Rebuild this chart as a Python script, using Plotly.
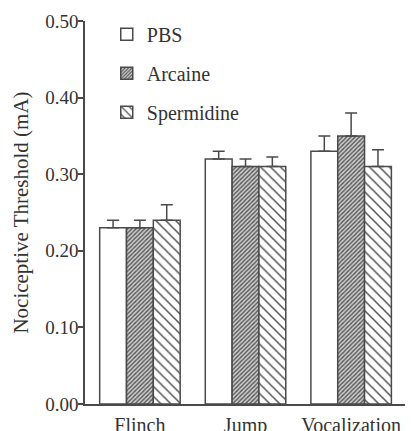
import plotly.graph_objects as go

categories = ["Flinch", "Jump", "Vocalization"]
series_names = ["PBS", "Arcaine", "Spermidine"]
pbs = [0.23, 0.32, 0.33]
pbs_err = [0.01, 0.01, 0.02]
arcaine = [0.23, 0.31, 0.35]
arcaine_err = [0.01, 0.01, 0.03]
spermidine = [0.24, 0.31, 0.31]
spermidine_err = [0.02, 0.0125, 0.022]
y_ticks = [0.0, 0.1, 0.2, 0.3, 0.4, 0.5]
y_ticklabels = ["0.00", "0.10", "0.20", "0.30", "0.40", "0.50"]

line_col = "#4a4a4a"
font_family = "'Liberation Serif', 'Times New Roman', Times, serif"

patterns = [
    dict(shape=""),
    dict(shape="/", size=3, solidity=0.45, fgcolor="#555555", bgcolor="#cfcfcf", fillmode="replace"),
    dict(shape="\\", size=7, solidity=0.22, fgcolor="#555555", bgcolor="white", fillmode="replace"),
]
values = [pbs, arcaine, spermidine]
errors = [pbs_err, arcaine_err, spermidine_err]

fig = go.Figure()
for i, name in enumerate(series_names):
    fig.add_trace(go.Bar(
        x=categories, y=values[i], name=name,
        legendgroup=name,
        marker=dict(color="white", line=dict(color=line_col, width=1.5), pattern=patterns[i]),
        error_y=dict(type="data", symmetric=False, array=errors[i],
                     arrayminus=[0] * len(categories),
                     color=line_col, thickness=1.5, width=6),
    ))

fig.update_layout(
    width=413, height=431,
    margin=dict(l=85, r=8, t=21, b=27, autoexpand=False),
    paper_bgcolor="white", plot_bgcolor="white",
    barmode="group", bargap=0.238, bargroupgap=0,
    font=dict(family=font_family, size=19, color="#333333"),
    showlegend=True,
    legend=dict(x=0.068, y=0.966, xanchor="left", yanchor="top", yref="container",
                bgcolor="rgba(0,0,0,0)", tracegroupgap=10,
                font=dict(size=20, family=font_family, color="#333333")),
    xaxis=dict(range=[-0.52, 2.51], showline=True, linecolor=line_col, linewidth=1.5,
               ticks="", showgrid=False, automargin=False, ticklabelstandoff=2,
               tickfont=dict(size=20, family=font_family)),
    yaxis=dict(range=[0, 0.5], tickvals=y_ticks, ticktext=y_ticklabels,
               showline=True, linecolor=line_col, linewidth=1.5,
               ticks="outside", ticklen=5, tickwidth=1.5, tickcolor=line_col,
               showgrid=False, zeroline=False, automargin=False, ticklabelstandoff=-4,
               tickfont=dict(size=19, family=font_family),
               title=dict(text="Nociceptive Threshold (mA)",
                          font=dict(size=21, family=font_family), standoff=11)),
)

fig.write_html("out.html", config={"displayModeBar": False},
               post_script="document.body.style.margin='0';")
